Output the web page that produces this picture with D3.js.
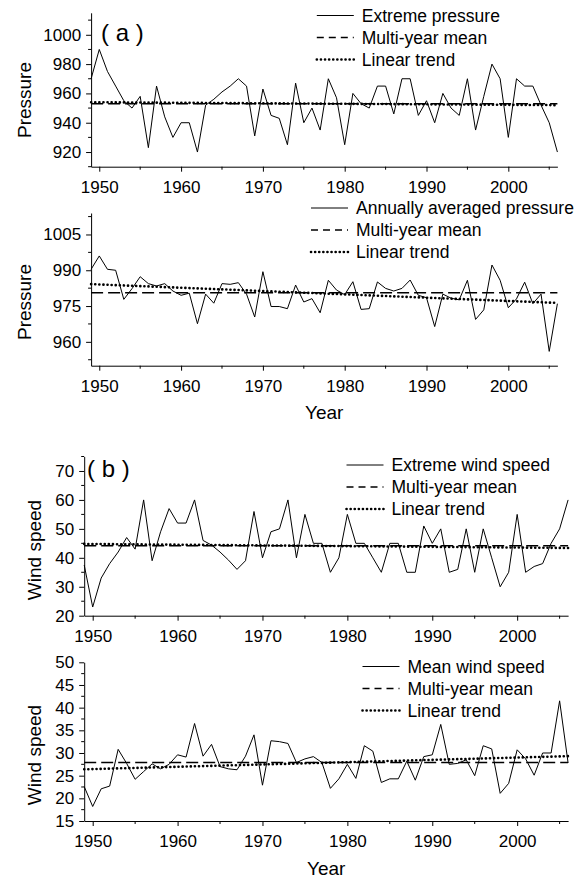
<!DOCTYPE html>
<html><head><meta charset="utf-8">
<script src="https://cdn.jsdelivr.net/npm/d3@7"></script>
<style>body{margin:0;background:#fff;} svg{display:block;font-family:"Liberation Sans",Arial,sans-serif;}</style>
</head><body>
<svg id="chart" width="581" height="881"></svg>
<script>
const years = [1949,1950,1951,1952,1953,1954,1955,1956,1957,1958,1959,1960,1961,1962,1963,1964,1965,1966,1967,1968,1969,1970,1971,1972,1973,1974,1975,1976,1977,1978,1979,1980,1981,1982,1983,1984,1985,1986,1987,1988,1989,1990,1991,1992,1993,1994,1995,1996,1997,1998,1999,2000,2001,2002,2003,2004,2005,2006];
const extremePressure = [970,990,975,965,955,950,958,923,965,944,930,940,940,920,952,956,961,965,970,965,931,963,945,943,925,967,940,950,935,970,957,925,960,953,950,965,965,946,970,970,945,955,940,960,950,945,970,935,958,980,970,930,970,965,965,952,940,920];
const annualPressure = [990.4,996,990.4,990,977.8,982.3,987.3,984.4,983.4,984.4,981.3,979.5,980.4,967.6,980,976.2,984.4,984.1,984.8,980,970.4,989.4,974.8,974.8,973.9,983.8,976.7,978.1,972.2,985.8,981.7,979.8,985.2,973.6,973.9,985.1,982.4,981.3,982.4,985.9,979.5,978.5,966.4,980,978.3,977.6,985.8,969.4,973.4,992.2,985.8,974.3,978,985,976,980,956,976];
const extremeWind = [37.5,23,33,38,42,47,43,60,39,49,57,52,52,60,46,44.4,42,39.2,36,39,56,40,49,50,60,40,55,45,45,35,40,55,45,45,40,35,45,45,35,35,51,45,50,35,36,50,35,50,40,30,35,55,35,37,38,45,50,60];
const meanWind = [22.6,18.2,22.1,22.7,30.8,27.7,24.2,25.9,27.6,26.5,27.5,29.6,29.1,36.5,29.3,31.9,27,26.5,26.3,29.3,34,22.9,32.7,32.5,32.1,27.9,28.7,29.2,27.9,22.2,24.3,27.5,24.4,31.6,30.4,23.5,24.3,24.3,28.2,24,29.2,29.6,36.3,27.5,27.7,28.5,25,31.6,30.9,21.1,23.3,30.7,28.7,25.1,30,30,41.5,27.8];
const multiYearMean = [953, 980.6, 44.2, 27.9];
const trendStart = [954, 984.2, 44.8, 26.4];
const trendEnd = [952, 976.3, 43.4, 29.3];
const seriesNames = ["Extreme pressure","Annually averaged pressure","Extreme wind speed","Mean wind speed"];
const yTitles = ["Pressure","Pressure","Wind speed","Wind speed"];
const yTickValues = [[920,940,960,980,1000],[960,975,990,1005],[20,30,40,50,60,70],[15,20,25,30,35,40,45,50]];
const yMinorValues = [[910,930,950,970,990,1010],[952.5,967.5,982.5,997.5,1012.5],[25,35,45,55,65,75],[17.5,22.5,27.5,32.5,37.5,42.5,47.5]];
const yDomains = [[910,1015],[950,1014],[20,75],[15,50]];
const xTickValues = [1950,1960,1970,1980,1990,2000];
const xMinorValues = [1955,1965,1975,1985,1995,2005];
const legendLabels = ["Multi-year mean","Linear trend"];
const panelTags = ["( a )", null, "( b )", null];

const seriesData = [extremePressure, annualPressure, extremeWind, meanWind];

// layout (pixels)
const layout = [
  {x0:91.1, x1:557.4, yb:166.7, yt:12.8, lx:316.8, ly:15.5, ttlX:24, ttlY:100, tag:[101,41], year:null},
  {x0:91.1, x1:557.4, yb:365.7, yt:213, lx:311, ly:208, ttlX:24, ttlY:302, tag:null, year:412},
  {x0:84.2, x1:568.1, yb:615.7, yt:456.5, lx:346.5, ly:465, ttlX:34, ttlY:550, tag:[87,477], year:null},
  {x0:84.2, x1:568.1, yb:821, yt:662.3, lx:362.5, ly:666.5, ttlX:34, ttlY:755, tag:null, year:868}
];

const svg = d3.select("#chart");
const FS = 17;

seriesData.forEach((vals, i) => {
  const L = layout[i];
  const x = d3.scaleLinear().domain([1949, 2006]).range([L.x0, L.x1]);
  const y = d3.scaleLinear().domain(yDomains[i]).range([L.yb, L.yt]);
  const g = svg.append("g");

  // x axis
  const xa = g.append("g").attr("transform", `translate(0,${L.yb})`)
    .call(d3.axisBottom(x).tickValues(xTickValues).tickFormat(d3.format("d")).tickSize(5).tickSizeOuter(0).tickPadding(9));
  xa.selectAll("text").attr("font-size", FS).attr("fill", "#000").attr("font-family", "Liberation Sans, Arial");
  xa.selectAll("line,path").attr("stroke", "#000");
  g.append("g").selectAll("line").data(xMinorValues).join("line")
    .attr("x1", d => x(d)).attr("x2", d => x(d)).attr("y1", L.yb).attr("y2", L.yb + 3).attr("stroke", "#000");

  // y axis
  const ya = g.append("g").attr("transform", `translate(${L.x0},0)`)
    .call(d3.axisLeft(y).tickValues(yTickValues[i]).tickFormat(d3.format("d")).tickSize(5).tickSizeOuter(0).tickPadding(5));
  ya.selectAll("text").attr("font-size", FS).attr("fill", "#000").attr("font-family", "Liberation Sans, Arial");
  ya.selectAll("line,path").attr("stroke", "#000");
  g.append("g").selectAll("line").data(yMinorValues[i].filter(v => v >= yDomains[i][0] && v <= yDomains[i][1])).join("line")
    .attr("x1", L.x0 - 3).attr("x2", L.x0).attr("y1", d => y(d)).attr("y2", d => y(d)).attr("stroke", "#000");

  // y title
  g.append("text").attr("transform", `translate(${L.ttlX},${L.ttlY}) rotate(-90)`)
    .attr("text-anchor", "middle").attr("dominant-baseline", "central")
    .attr("font-size", 19).text(yTitles[i]);

  if (L.year) {
    g.append("text").attr("x", (L.x0 + L.x1) / 2).attr("y", L.year)
      .attr("text-anchor", "middle").attr("dominant-baseline", "central")
      .attr("font-size", 19).text("Year");
  }
  if (L.tag) {
    g.append("text").attr("x", L.tag[0]).attr("y", L.tag[1]).attr("font-size", 24).text(panelTags[i]);
  }

  // mean line
  g.append("line").attr("x1", x(1949)).attr("x2", x(2006))
    .attr("y1", y(multiYearMean[i])).attr("y2", y(multiYearMean[i]))
    .attr("stroke", "#000").attr("stroke-width", 1.5).attr("stroke-dasharray", "12,5");
  // trend line
  g.append("line").attr("x1", x(1949)).attr("x2", x(2006))
    .attr("y1", y(trendStart[i])).attr("y2", y(trendEnd[i]))
    .attr("stroke", "#000").attr("stroke-width", 2.6).attr("stroke-dasharray", "0.1,4").attr("stroke-linecap", "round");
  // data line
  const line = d3.line().x((d, k) => x(years[k])).y(d => y(d));
  g.append("path").datum(vals).attr("d", line).attr("fill", "none").attr("stroke", "#000").attr("stroke-width", 1);

  // legend
  const rows = [
    {label: seriesNames[i], dash: null, w: 1},
    {label: legendLabels[0], dash: "7,5", w: 1.5},
    {label: legendLabels[1], dash: "0.1,4", w: 2.6}
  ];
  rows.forEach((r, k) => {
    const yy = L.ly + k * 22;
    const ln = g.append("line").attr("x1", L.lx).attr("x2", L.lx + 37).attr("y1", yy).attr("y2", yy)
      .attr("stroke", "#000").attr("stroke-width", r.w);
    if (r.dash) ln.attr("stroke-dasharray", r.dash);
    if (k === 2) ln.attr("stroke-linecap", "round");
    g.append("text").attr("x", L.lx + 45).attr("y", yy).attr("dominant-baseline", "central")
      .attr("font-size", 17.5).text(r.label);
  });
});
</script>
</body></html>
